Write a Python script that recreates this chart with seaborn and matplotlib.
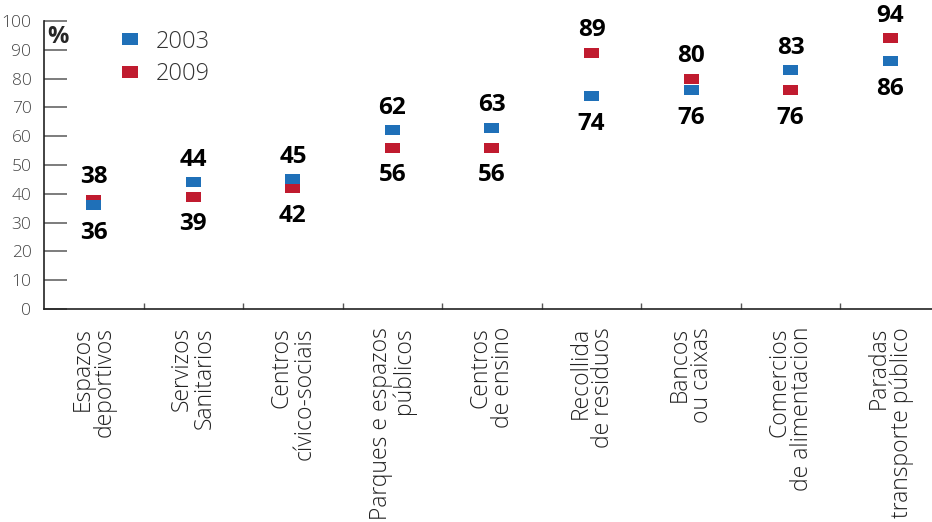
import matplotlib
matplotlib.use("Agg")
import matplotlib.pyplot as plt
from matplotlib.ticker import FixedLocator
import seaborn as sns
import pandas as pd

# values
categories = ["Espazos\ndeportivos", "Servizos\nSanitarios", "Centros\ncívico-sociais",
              "Parques e espazos\npúblicos", "Centros\nde ensino", "Recollida\nde residuos",
              "Bancos\nou caixas", "Comercios\nde alimentacion", "Paradas\ntransporte público"]
v2003 = [36, 44, 45, 62, 63, 74, 76, 83, 86]
v2009 = [38, 39, 42, 56, 56, 89, 80, 76, 94]
years = ["2003", "2009"]
yticks = list(range(0, 101, 10))

blue = "#1f70b8"
red = "#c01b2f"

sns.set_style("white")
plt.rcParams["font.family"] = ["Open Sans", "DejaVu Sans"]

# 2009 first so the 2003 squares sit on top where they touch
df = pd.concat([
    pd.DataFrame({"pos": range(len(categories)), "valor": v2009, "ano": "2009"}),
    pd.DataFrame({"pos": range(len(categories)), "valor": v2003, "ano": "2003"}),
], ignore_index=True)

fig = plt.figure(figsize=(9.32, 5.22), dpi=100)
ax = fig.add_axes([44 / 932, 213 / 522, 888 / 932, 288 / 522])

rect = [(-1.5, -1), (1.5, -1), (1.5, 1), (-1.5, 1)]
sns.scatterplot(data=df, x="pos", y="valor", hue="ano", hue_order=years,
                palette={"2003": blue, "2009": red}, marker=rect, s=117,
                linewidth=0, ax=ax, zorder=3)

# value labels: higher one above, lower one below
for i in range(len(categories)):
    a, b = v2003[i], v2009[i]
    hi, lo = max(a, b), min(a, b)
    ax.annotate(str(hi), (i, hi), xytext=(0, 16), textcoords="offset points",
                ha="center", va="center", fontsize=17.5, fontweight="bold", color="black")
    ax.annotate(str(lo), (i, lo), xytext=(0, -20), textcoords="offset points",
                ha="center", va="center", fontsize=17.5, fontweight="bold", color="black")

ax.set_xlim(-0.5, 8.42)
ax.set_ylim(0, 100)
ax.set_yticks(yticks)
ax.set_yticklabels([str(t) for t in yticks], fontsize=12.5, color="#444444", fontweight="light")
ax.set_xticks(range(len(categories)))
ax.set_xticklabels(categories, rotation=90, fontsize=16.5, color="#222222",
                   fontweight="light", ha="center", va="top", multialignment="right")
for lab in ax.get_xticklabels():
    lab.set_linespacing(0.92)
ax.xaxis.set_minor_locator(FixedLocator([i + 0.5 for i in range(len(categories))]))
ax.tick_params(axis="x", which="major", length=0, pad=13)
ax.tick_params(axis="x", which="minor", bottom=True, direction="in", length=4,
               width=1, color="#555555")
ax.tick_params(axis="y", left=True, direction="in", length=16.5, width=1.2,
               color="#666666", pad=9)
ax.yaxis.get_major_ticks()[9].tick1line.set_color("black")

for s in ["top", "right"]:
    ax.spines[s].set_visible(False)
for s in ["left", "bottom"]:
    ax.spines[s].set_color("#222222")
    ax.spines[s].set_linewidth(1.2)

ax.set_xlabel("")
ax.set_ylabel("")
ax.text(0.004, 0.945, "%", transform=ax.transAxes, fontsize=17, fontweight="bold",
        ha="left", va="center")

leg = ax.legend(loc="upper left", bbox_to_anchor=(0.083, 0.97), frameon=False,
                fontsize=17, labelspacing=0.36, handlelength=1.0, handletextpad=0.6,
                borderaxespad=0, borderpad=0, markerscale=1.12)
for t in leg.get_texts():
    t.set_color("#333333")
    t.set_fontweight("light")

fig.savefig("out.png", dpi=100)
